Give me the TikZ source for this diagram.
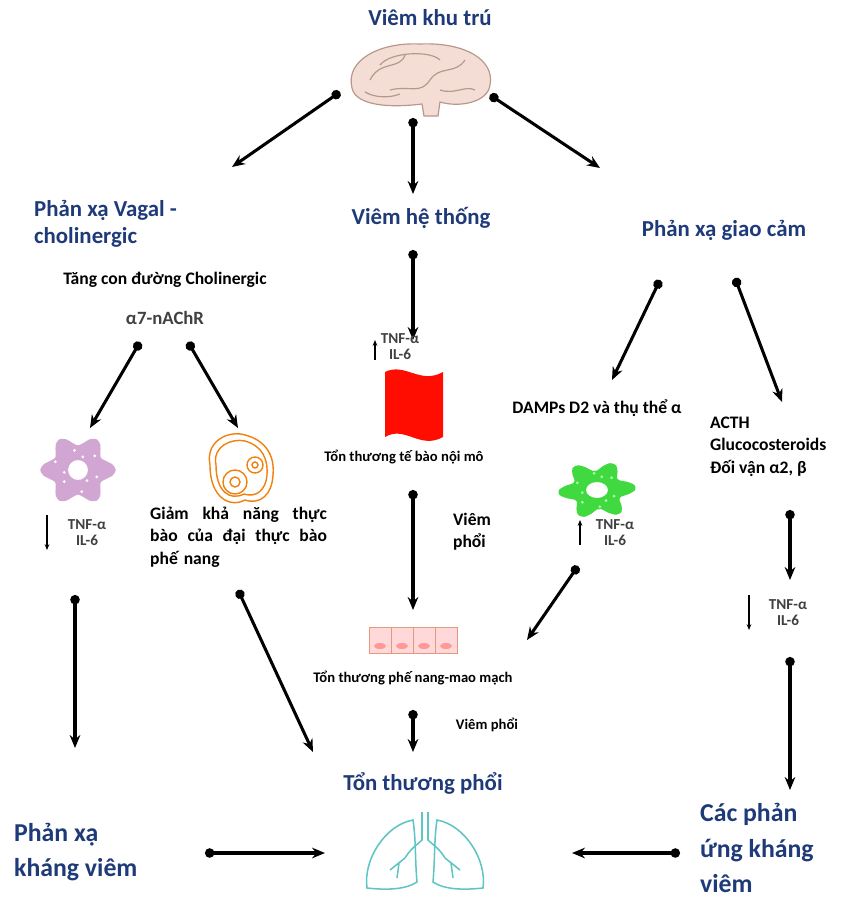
\documentclass[tikz,border=0pt]{standalone}
\usepackage{fontspec}
\setmainfont{Carlito}
\usetikzlibrary{arrows.meta}
\definecolor{tblue}{HTML}{1F3A78}
\definecolor{brainf}{HTML}{F3DDD4}
\definecolor{brainl}{HTML}{B8978A}
\definecolor{lungc}{HTML}{5FC4C4}
\begin{document}
\begin{tikzpicture}[x=0.03cm,y=-0.03cm,
 title/.style={text=tblue,font=\bfseries\fontsize{19.5}{23}\selectfont,align=left},
 big/.style={text=tblue,font=\bfseries\fontsize{22}{30}\selectfont,align=left},
 lab/.style={font=\bfseries\fontsize{15}{19}\selectfont,align=left},
 small/.style={font=\bfseries\fontsize{12.5}{15}\selectfont,align=left},
 cyt/.style={text=black!75,font=\bfseries\fontsize{13}{13.5}\selectfont,align=center},
 conn/.style={line width=2.6pt,{Circle[length=8pt]}-{Stealth[length=11pt,width=9pt]}},
 thin/.style={line width=1.3pt,-{Stealth[length=5pt,width=4pt]}}]
\useasboundingbox (0,0) rectangle (860,911);
% titles
\node[title] (vkt) at (430,18) {Viêm khu trú};
\node[title,anchor=west] (vagal) at (30,224) {Phản xạ Vagal -\\cholinergic};
\node[title] (vht) at (421,218) {Viêm hệ thống};
\node[title] (gc) at (724,230) {Phản xạ giao cảm};
\node[lab] (tang) at (165,280) {Tăng con đường Cholinergic};
\node[text=black!75,font=\bfseries\fontsize{16}{18}\selectfont] (a7) at (165,318) {α7-nAChR};
% brain
\begin{scope}[shift={(420,80)}]
\draw[fill=brainf,draw=brainl,line width=1pt] (-68,8) .. controls (-75,-20) and (-40,-38) .. (0,-36) .. controls (45,-38) and (75,-20) .. (70,5) .. controls (68,22) and (40,28) .. (20,22) -- (18,36) -- (4,36) -- (2,24) .. controls (-30,28) and (-64,26) .. (-68,8) -- cycle;
\draw[brainl,line width=1pt] (-50,0) .. controls (-40,-20) and (-20,-10) .. (-15,-25) (-30,10) .. controls (-10,5) and (0,15) .. (10,0) .. controls (20,-15) and (35,-5) .. (45,-20) (20,10) .. controls (35,15) and (45,5) .. (55,10) (-40,-15) .. controls (-30,-28) and (10,-30) .. (20,-20) (-55,12) .. controls (-45,18) and (-30,18) .. (-20,14);
\end{scope}
\node (brain) at (420,80) {};
\coordinate (b1) at (340,92); \coordinate (b1e) at (232,167);
\coordinate (b2) at (413,118); \coordinate (b2e) at (413,194);
\coordinate (b3) at (490,95); \coordinate (b3e) at (600,168);
\draw[conn] (b1) -- (b1e);
\draw[conn] (b2) -- (b2e);
\draw[conn] (b3) -- (b3e);
% left branch
\coordinate (l1) at (140,342); \coordinate (l2) at (188,342);
\node (pcell) at (78,470) {};
\node (ocell) at (240,470) {};
\draw[conn] (l1) -- (90,428);
\draw[conn] (l2) -- (238,428);
\begin{scope}[shift={(78,470)}]
\fill[violet!35,even odd rule] plot[smooth cycle,domain=0:350,samples=36,variable=\t] ({32*(1+0.18*cos(6*\t))*cos(\t)},{30*(1+0.18*cos(6*\t))*sin(\t)}) (0,0) circle (10);
\foreach \a/\r in {20/20,80/22,140/18,200/24,260/20,320/22,50/14,170/14,290/14} \fill[white] (\a:\r) circle (1.5);
\end{scope}
\begin{scope}[shift={(240,470)},draw=orange!80!brown,line width=1.2pt]
\draw (-30,-5) .. controls (-35,-30) and (-10,-40) .. (5,-35) .. controls (25,-30) and (35,-15) .. (33,5) .. controls (32,25) and (20,35) .. (5,30) .. controls (-10,38) and (-30,28) .. (-30,-5) -- cycle;
\draw (-24,-5) .. controls (-28,-24) and (-8,-32) .. (5,-29) .. controls (22,-24) and (28,-12) .. (27,5) .. controls (26,20) and (16,28) .. (4,24) .. controls (-10,31) and (-24,22) .. (-24,-5) -- cycle;
\draw (-5,12) circle (12) (-5,12) circle (5) (15,-5) circle (8) (15,-5) circle (3);
\end{scope}
\draw[thin] (47,515) -- (47,550);
\node[cyt] (tnf1) at (87,533) {TNF-α\\IL-6};
\node[lab,text width=5.3cm,align=left,anchor=north west,inner sep=0] (giam) at (150,507) {Giảm\hfill khả\hfill năng\hfill thực\\bào\hfill của\hfill đại\hfill thực\hfill bào\\phế nang};
\coordinate (l3) at (75,595); \coordinate (l4) at (238,590);
\draw[conn] (l3) -- (75,748);
\draw[conn] (l4) -- (313,752);
% middle
\coordinate (m1) at (413,250); \coordinate (m1e) at (413,340);
\draw[conn] (m1) -- (m1e);
\draw[thin] (375,360) -- (375,340);
\node[cyt] (tnf2) at (400,347) {TNF-α\\IL-6};
\fill[red!90!orange] (385,372) .. controls (405,362) and (420,385) .. (443,372) -- (443,437) .. controls (420,450) and (405,425) .. (385,437) -- cycle;
\node (flag) at (414,405) {};
\node[small] (endo) at (404,457) {Tổn thương tế bào nội mô};
\coordinate (m2) at (413,490); \coordinate (m2e) at (413,610);
\node (alv) at (413,640) {};
\draw[conn] (m2) -- (m2e);
\node[lab] (vp1) at (472,532) {Viêm\\phổi};
\begin{scope}[shift={(413,640)}]
\foreach \i in {-33,-11,11,33}{
\fill[red!15] (\i-11,-13) rectangle (\i+11,13);
\draw[red!35!brown!60,line width=0.6pt] (\i-11,-13) rectangle (\i+11,13);
\fill[red!40] (\i,6) ellipse (6 and 3);}
\end{scope}
\node[small] (alvt) at (413,678) {Tổn thương phế nang-mao mạch};
\coordinate (m3) at (413,710); \coordinate (m3e) at (413,752);
\draw[conn] (m3) -- (m3e);
\node[small] (vp2) at (487,725) {Viêm phổi};
\node[title] (ttp) at (423,783) {Tổn thương phổi};
% lungs
\begin{scope}[shift={(425,850)},draw=lungc,line width=1.3pt]
\draw (-3,-38) -- (-3,-10) .. controls (-8,-5) and (-14,-2) .. (-20,8) (3,-38) -- (3,-10) .. controls (8,-5) and (14,-2) .. (20,8);
\draw (-12,-30) .. controls (-40,-25) and (-62,10) .. (-58,38) .. controls (-40,40) and (-20,40) .. (-8,32) .. controls (-10,10) and (-9,-10) .. (-12,-30) -- cycle;
\draw (12,-30) .. controls (40,-25) and (62,10) .. (58,38) .. controls (40,40) and (20,40) .. (8,32) .. controls (10,10) and (9,-10) .. (12,-30) -- cycle;
\draw (-20,8) -- (-35,20) (-26,13) -- (-28,28) (20,8) -- (35,20) (26,13) -- (28,28);
\end{scope}
\node (lung) at (425,850) {};
% right branch
\coordinate (r1) at (660,280); \coordinate (r2) at (735,278);
\draw[conn] (r1) -- (612,380);
\draw[conn] (r2) -- (782,402);
\node[lab] (damps) at (597,408) {DAMPs D2 và thụ thể α};
\node[lab,anchor=north west] (acth) at (706,413) {ACTH\\Glucocosteroids\\Đối vận α2, β};
\begin{scope}[shift={(597,490)}]
\fill[green!80!black!75,even odd rule] plot[smooth cycle,domain=0:350,samples=36,variable=\t] ({32*(1+0.22*cos(6*\t+30))*cos(\t)},{24*(1+0.22*cos(6*\t+30))*sin(\t)}) (0,0) ellipse (11 and 8);
\foreach \a/\r in {20/18,80/17,140/19,200/21,260/17,320/19,50/14,170/15,290/14} \fill[white!70!green] (\a:\r) circle (1.5);
\end{scope}
\node (gcell) at (597,490) {};
\draw[thin] (580,545) -- (580,520);
\node[cyt] (tnf3) at (615,533) {TNF-α\\IL-6};
\coordinate (r3) at (578,566);
\draw[conn] (r3) -- (527,640);
\coordinate (r4) at (790,510);
\draw[conn] (r4) -- (790,580);
\draw[thin] (749,595) -- (749,630);
\node[cyt] (tnf4) at (788,613) {TNF-α\\IL-6};
\coordinate (r5) at (790,657);
\draw[conn] (r5) -- (790,790);
% bottom
\node[big,anchor=west] (pxkv) at (10,852) {Phản xạ\\kháng viêm};
\node[big,anchor=west] (cpu) at (696,848) {Các phản\\ứng kháng\\viêm};
\coordinate (h1) at (205,853); \coordinate (h2) at (680,853);
\draw[conn] (h1) -- (325,853);
\draw[conn] (h2) -- (572,853);
\end{tikzpicture}
\end{document}
